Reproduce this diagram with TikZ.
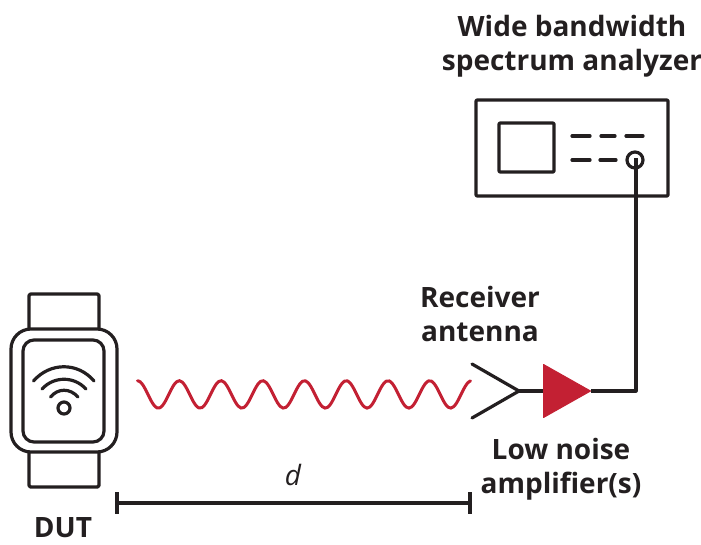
\documentclass[tikz,border=0pt]{standalone}
\usepackage{fontspec}
\setmainfont{Open Sans}
\usepackage{tikz}
\usetikzlibrary{positioning,calc}
\definecolor{inkblack}{HTML}{231F20}
\definecolor{signalred}{HTML}{C32033}
\tikzset{
  line/.style={draw=inkblack,line width=3.2pt,line join=round},
  label/.style={font=\fontsize{28}{34}\selectfont\bfseries,text=inkblack,align=center,inner sep=0pt},
  dashbar/.style={draw=inkblack,line width=3.2pt,line cap=round},
}
\begin{document}
\begin{tikzpicture}[x=1pt,y=-1pt]
\useasboundingbox (0,0) rectangle (701,544);
% watch (left)
\draw[line,rounded corners=1.5pt] (29,328) -- (29,294) -- (99,294) -- (99,328);
\draw[line,rounded corners=1.5pt] (29,452) -- (29,487) -- (99,487) -- (99,452);
\draw[line,rounded corners=20pt] (11,329) rectangle (117,452);
\draw[line,rounded corners=11pt] (23,340) rectangle (104,442);
\draw[line,line cap=round] (33.5,381) .. controls (50,362) and (78,362) .. (94,381);
\draw[line,line cap=round] (42,389) .. controls (54,376) and (74,376) .. (86,389);
\draw[line,line cap=round] (50.5,397) .. controls (58,388) and (70,388) .. (78,397);
\draw[line] (64,408) circle (6);
\node[label] (dut) at (63,528) {DUT};
% signal between watch and antenna
\draw[signalred,line width=3pt,line cap=round] plot[smooth,domain=137.5:470.5,samples=120] (\x,{394.4-13.7*cos(8.623*(\x-137.5))});
% distance bar
\coordinate (barleft) at (117,503);
\coordinate (barright) at (470,503);
\draw[line] (barleft) -- (barright);
\draw[line] ($(barleft)+(0,-11)$) -- ($(barleft)+(0,11)$);
\draw[line] ($(barright)+(0,-11)$) -- ($(barright)+(0,11)$);
\node[font=\fontsize{28}{30}\selectfont\itshape,text=inkblack,inner sep=0pt] (dist) at (293,475) {d};
% antenna and amplifier
\coordinate (apex) at (519,391);
\coordinate (ampin) at (543,391);
\coordinate (ampout) at (591,391);
\coordinate (corner) at (636,391);
\draw[line,line cap=round] (472,364) -- (apex) -- (472,418);
\draw[line] (apex) -- (ampin);
\draw[fill=signalred,draw=signalred,line width=1pt,line join=round] (543.5,364.5) -- (590.5,391) -- (543.5,417.5) -- cycle;
\node[label] (rxlabel) at (480,313.5) {Receiver\\antenna};
\node[label] (amplabel) at (561,469.5) {Low noise\\amplifier(s)};
% spectrum analyzer (top)
\draw[line,rounded corners=1pt] (476,100) rectangle (668,196);
\draw[line,rounded corners=1pt] (499,123) rectangle (554,172);
\foreach \xa/\xb in {572/590,601/615,626/643} \draw[dashbar] (\xa,136) -- (\xb,136);
\foreach \xa/\xb in {572/590,600/616} \draw[dashbar] (\xa,160) -- (\xb,160);
\node[draw=inkblack,line width=3.2pt,circle,minimum size=16pt,inner sep=0pt] (port) at (635,160) {};
\coordinate (portin) at (636,158);
\draw[line] (ampout) -- (corner) -- (portin);
\node[label] (salabel) at (572,46.5) {Wide bandwidth\\spectrum analyzer};
\end{tikzpicture}
\end{document}
